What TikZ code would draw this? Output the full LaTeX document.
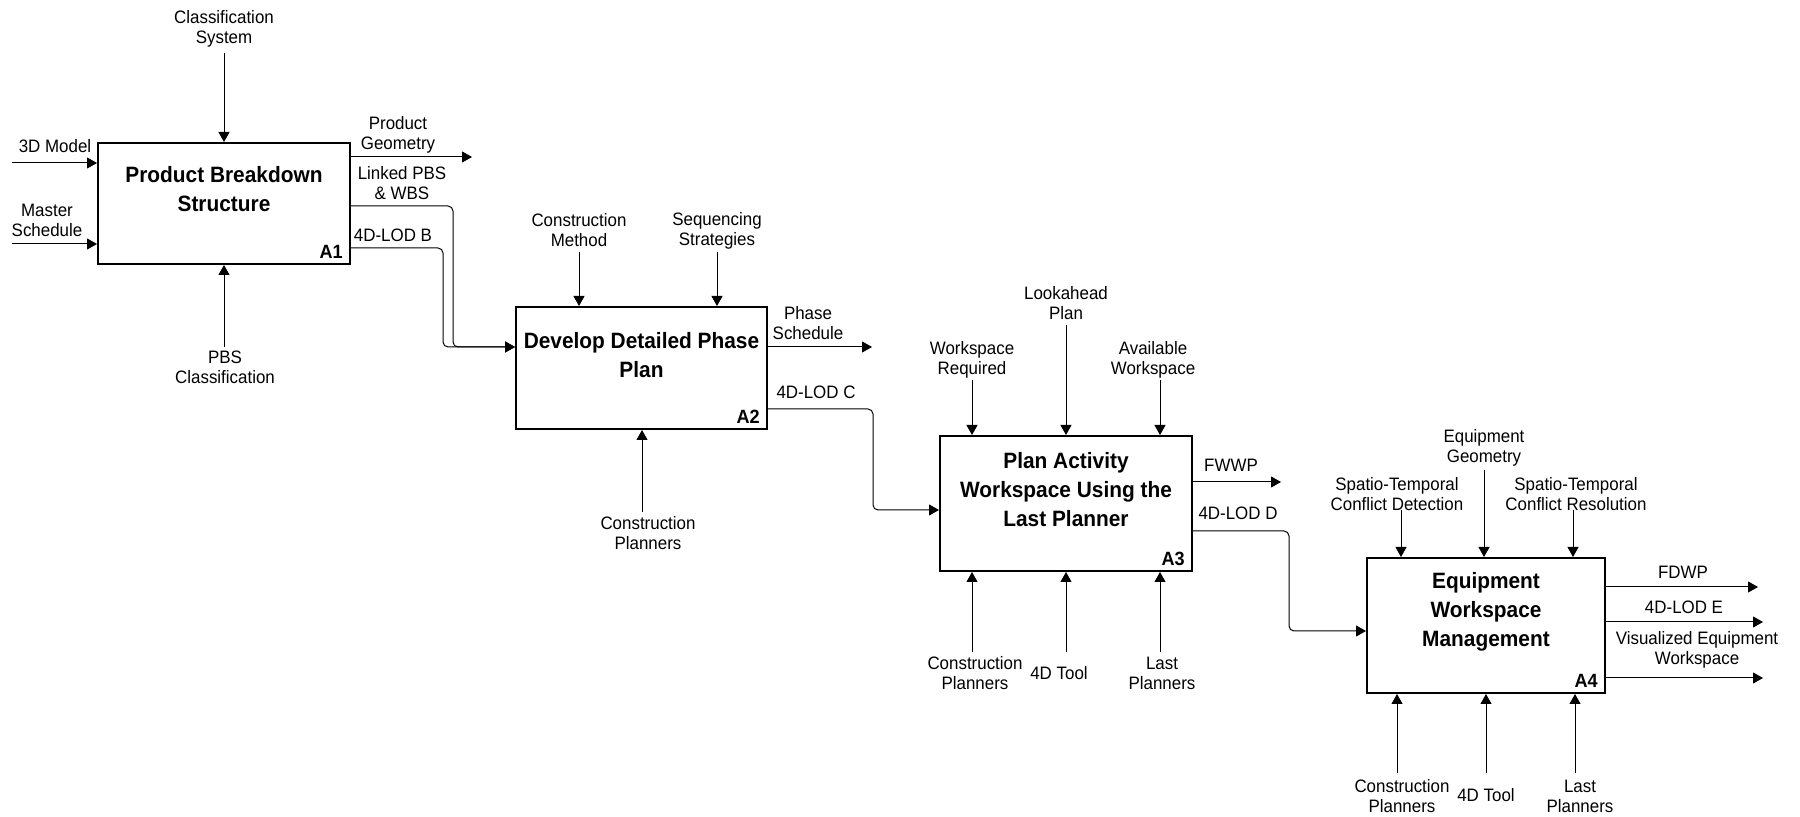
\documentclass[tikz,border=0pt]{standalone}
\usepackage{fontspec}
\setmainfont{Liberation Sans}[FakeStretch=0.94]
\usetikzlibrary{arrows.meta,calc}
\begin{document}
\begin{tikzpicture}[x=0.5pt,y=-0.5pt,
  lbl/.style={font=\fontsize{9}{10}\selectfont, align=center, inner sep=0pt},
  ttl/.style={font=\fontsize{11.1}{14.5}\selectfont\bfseries, align=center, inner sep=0pt},
  num/.style={font=\fontsize{9.6}{10}\selectfont\bfseries, inner sep=0pt, anchor=south east},
  box/.style={draw, line width=1pt, inner sep=0pt},
  arr/.style={line width=0.5pt, -{Triangle[length=5pt,width=5.5pt]}},
  elbow/.style={arr, rounded corners=2.5pt}]
\useasboundingbox (0,0) rectangle (1800,817);

% boxes
\node[box, minimum width=126pt, minimum height=60.5pt] (A1) at (224,203.5) {};
\node[box, minimum width=125.5pt, minimum height=61pt] (A2) at (641.5,368) {};
\node[box, minimum width=126pt, minimum height=67.5pt] (A3) at (1066,503.5) {};
\node[box, minimum width=119pt, minimum height=67.5pt] (A4) at (1486,625.5) {};

\node[ttl] (A1t) at ($(A1.center)+(0,-14)$) {Product Breakdown\\Structure};
\node[ttl] (A2t) at ($(A2.center)+(0,-13)$) {Develop Detailed Phase\\Plan};
\node[ttl] (A3t) at ($(A3.center)+(0,-13.5)$) {Plan Activity\\Workspace Using the\\Last Planner};
\node[ttl] (A4t) at ($(A4.center)+(0,-13.5)$) {Equipment\\Workspace\\Management};

\node[num] (A1n) at ($(A1.south east)+(-8,-6)$) {A1};
\node[num] (A2n) at ($(A2.south east)+(-8,-6)$) {A2};
\node[num] (A3n) at ($(A3.south east)+(-8,-6)$) {A3};
\node[num] (A4n) at ($(A4.south east)+(-8,-6)$) {A4};

% ---------- A1 ----------
\node[lbl] (l11) at (224,29) {Classification\\System};
\node[lbl] (l12) at (55,146) {3D Model};
\node[lbl] (l13) at (47,220) {Master\\Schedule};
\node[lbl] (l14) at (225,367) {PBS\\Classification};
\node[lbl] (l15) at (398,134.5) {Product\\Geometry};
\node[lbl] (l16) at (402,183) {Linked PBS\\\& WBS};
\node[lbl] (l17) at (393,235) {4D-LOD B};

\coordinate (c11) at (224,53);
\coordinate (c12) at (12,163);
\coordinate (c13) at (12,244);
\coordinate (c14) at (224,347);
\coordinate (c15) at (472,157);
\coordinate (c16) at (453,206);
\coordinate (c17) at (443,248);
\coordinate (j2) at (453,347);
\coordinate (j2b) at (443,347);

\draw[arr] (c11) -- (c11 |- A1.north);
\draw[arr] (c12) -- (c12 -| A1.west);
\draw[arr] (c13) -- (c13 -| A1.west);
\draw[arr] (c14) -- (c14 |- A1.south);
\draw[arr] (c15 -| A1.east) -- (c15);
\draw[elbow] (c16 -| A1.east) -- (c16) -- (j2) -- (j2 -| A2.west);
\draw[elbow] (c17 -| A1.east) -- (c17) -- (j2b) -- (j2 -| A2.west);

% ---------- A2 ----------
\node[lbl] (l21) at (579,230.5) {Construction\\Method};
\node[lbl] (l22) at (717,230.5) {Sequencing\\Strategies};
\node[lbl] (l23) at (808,323) {Phase\\Schedule};
\node[lbl] (l24) at (816,392) {4D-LOD C};
\node[lbl] (l25) at (648,533) {Construction\\Planners};

\coordinate (c21) at (579,252);
\coordinate (c22) at (717,252);
\coordinate (c23) at (872,347);
\coordinate (c24) at (873,409);
\coordinate (j3) at (873,510);
\coordinate (c25) at (642,512);

\draw[arr] (c21) -- (c21 |- A2.north);
\draw[arr] (c22) -- (c22 |- A2.north);
\draw[arr] (c23 -| A2.east) -- (c23);
\draw[elbow] (c24 -| A2.east) -- (c24) -- (j3) -- (j3 -| A3.west);
\draw[arr] (c25) -- (c25 |- A2.south);

% ---------- A3 ----------
\node[lbl] (l31) at (972,359.5) {Workspace\\Required};
\node[lbl] (l32) at (1066,303.5) {Lookahead\\Plan};
\node[lbl] (l33) at (1153,359.5) {Available\\Workspace};
\node[lbl] (l34) at (1231,465) {FWWP};
\node[lbl] (l35) at (1238,513) {4D-LOD D};
\node[lbl] (l36) at (975,673) {Construction\\Planners};
\node[lbl] (l37) at (1059,673) {4D Tool};
\node[lbl] (l38) at (1162,673) {Last\\Planners};

\coordinate (c31) at (972,380);
\coordinate (c32) at (1066,325);
\coordinate (c33) at (1160,380);
\coordinate (c34) at (1281,482);
\coordinate (c35) at (1289,531);
\coordinate (j4) at (1289,631);
\coordinate (c36) at (972,652);
\coordinate (c37) at (1066,652);
\coordinate (c38) at (1160,652);

\draw[arr] (c31) -- (c31 |- A3.north);
\draw[arr] (c32) -- (c32 |- A3.north);
\draw[arr] (c33) -- (c33 |- A3.north);
\draw[arr] (c34 -| A3.east) -- (c34);
\draw[elbow] (c35 -| A3.east) -- (c35) -- (j4) -- (j4 -| A4.west);
\draw[arr] (c36) -- (c36 |- A3.south);
\draw[arr] (c37) -- (c37 |- A3.south);
\draw[arr] (c38) -- (c38 |- A3.south);

% ---------- A4 ----------
\node[lbl] (l41) at (1397,494.5) {Spatio-Temporal\\Conflict Detection};
\node[lbl] (l42) at (1484,448) {Equipment\\Geometry};
\node[lbl] (l43) at (1576,494.5) {Spatio-Temporal\\Conflict Resolution};
\node[lbl] (l44) at (1683,572) {FDWP};
\node[lbl] (l45) at (1684,607) {4D-LOD E};
\node[lbl] (l46) at (1697,650) {Visualized Equipment\\Workspace};
\node[lbl] (l47) at (1402,796.5) {Construction\\Planners};
\node[lbl] (l48) at (1486,795) {4D Tool};
\node[lbl] (l49) at (1580,796.5) {Last\\Planners};

\coordinate (c41) at (1401,510);
\coordinate (c42) at (1484,470);
\coordinate (c43) at (1573,510);
\coordinate (c44) at (1758,587);
\coordinate (c45) at (1763,622);
\coordinate (c46) at (1763,678);
\coordinate (c47) at (1397,773);
\coordinate (c48) at (1486,773);
\coordinate (c49) at (1575,773);

\draw[arr] (c41) -- (c41 |- A4.north);
\draw[arr] (c42) -- (c42 |- A4.north);
\draw[arr] (c43) -- (c43 |- A4.north);
\draw[arr] (c44 -| A4.east) -- (c44);
\draw[arr] (c45 -| A4.east) -- (c45);
\draw[arr] (c46 -| A4.east) -- (c46);
\draw[arr] (c47) -- (c47 |- A4.south);
\draw[arr] (c48) -- (c48 |- A4.south);
\draw[arr] (c49) -- (c49 |- A4.south);
\end{tikzpicture}
\end{document}
